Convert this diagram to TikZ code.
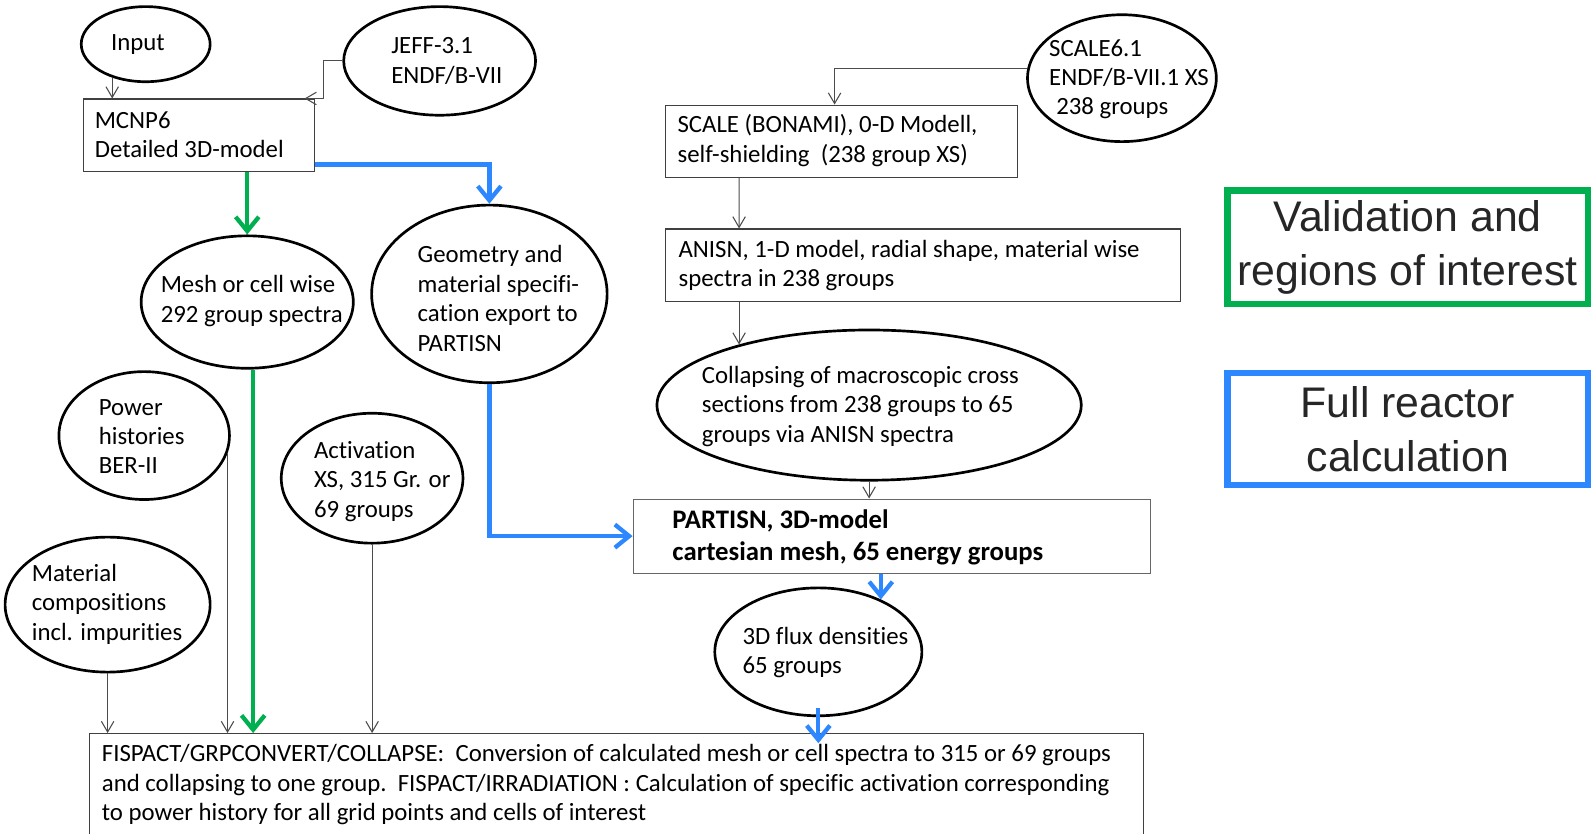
\documentclass[tikz,border=0pt]{standalone}
\usepackage{fontspec}
\setmainfont{Carlito}[Ligatures={NoCommon}]
\newfontfamily\legendfont{Liberation Sans}
\usetikzlibrary{arrows.meta,calc,shapes.geometric}
\definecolor{roigreen}{RGB}{0,176,80}
\definecolor{fullblue}{RGB}{45,135,255}
\tikzset{
	ell/.style={draw=black, line width=1.5pt, ellipse, inner sep=0pt},
	box/.style={draw=black!75, line width=0.6pt, rectangle, inner sep=0pt, anchor=north west},
	txt/.style={align=left, anchor=west, inner sep=0pt, font=\fontsize{13.9}{16.5}\selectfont},
	thinarrow/.style={draw=black!70, line width=0.6pt, -{Straight Barb[length=6pt,width=7pt]}},
	greenarrow/.style={draw=roigreen, line width=2.4pt, -{Straight Barb[length=8pt,width=13pt]}},
	bluearrow/.style={draw=fullblue, line width=2.4pt, -{Straight Barb[length=8pt,width=13pt]}},
	legendbox/.style={line width=3.5pt, minimum width=7.1cm, align=center, text=black!85, font=\legendfont\fontsize{24}{30.5}\selectfont}
}

\begin{document}
\begin{tikzpicture}[x=0.02cm, y=-0.02cm]
		%%%%% START %%%%%
		
		\useasboundingbox (0,0) rectangle (1568,821);
		
		\node[ell, minimum width=2.54cm, minimum height=1.48cm] (input) at (143.5,43.5) {};
		\node[txt] (inputtext) at (109,43.5) {Input};
		\node[ell, minimum width=3.78cm, minimum height=2.14cm] (jeff) at (433,60) {};
		\node[txt] (jefftext) at (385,60) {JEFF-3.1\\ENDF/B-VII};
		\node[box, minimum width=4.54cm, minimum height=1.42cm] (mcnp) at (82,97) {};
		\node[txt] (mcnptext) at (93,132.5) {MCNP6\\Detailed 3D-model};
		
		\node[ell, minimum width=3.72cm, minimum height=2.5cm] (scale) at (1105,77) {};
		\node[txt] (scaletext) at (1033,78) {SCALE6.1\\ENDF/B-VII.1 XS\\\hspace*{4pt}238 groups};
		\node[box, minimum width=6.94cm, minimum height=1.42cm] (bonami) at (655,103) {};
		\node[txt] (bonamitext) at (667,138.5) {SCALE (BONAMI), 0-D Modell,\\self-shielding\ \ (238 group XS)};
		\node[box, minimum width=10.14cm, minimum height=1.42cm] (anisn) at (655,225) {};
		\node[txt] (anisntext) at (668,261.5) {ANISN, 1-D model, radial shape, material wise\\spectra in 238 groups};
		\node[ell, minimum width=8.36cm, minimum height=2.96cm] (coll) at (856,399) {};
		\node[txt] (colltext) at (691,400) {Collapsing of macroscopic cross\\sections from 238 groups to 65\\groups via ANISN spectra};
		
		\node[ell, minimum width=4.18cm, minimum height=2.61cm] (mesh) at (243.5,297.5) {};
		\node[txt] (meshtext) at (158,296.5) {Mesh or cell wise\\292 group spectra};
		\node[ell, minimum width=4.64cm, minimum height=3.5cm] (geo) at (482,289.5) {};
		\node[txt] (geotext) at (411,294) {Geometry and\\material specifi-\\cation export to\\PARTISN};
		
		\node[ell, minimum width=3.36cm, minimum height=2.52cm] (power) at (142,429) {};
		\node[txt] (powertext) at (97,430) {Power\\histories\\BER-II};
		\node[ell, minimum width=3.58cm, minimum height=2.56cm] (act) at (366.5,471) {};
		\node[txt] (acttext) at (309,474) {Activation\\XS, 315 Gr. or\\69 groups};
		\node[ell, minimum width=4.04cm, minimum height=2.66cm] (material) at (106,595.5) {};
		\node[txt] (materialtext) at (31,595) {Material\\compositions\\incl. impurities};
		
		\node[box, draw=black!60, minimum width=10.2cm, minimum height=1.46cm] (partisn) at (623,491) {};
		\node[txt, font=\bfseries\fontsize{15}{18}\selectfont] (partisntext) at (662,529) {PARTISN, 3D-model\\cartesian mesh, 65 energy groups};
		\node[ell, minimum width=4.08cm, minimum height=2.52cm] (flux) at (806,642) {};
		\node[txt] (fluxtext) at (731,642.5) {3D flux densities\\65 groups};
		\node[box, minimum width=20.76cm, minimum height=2.1cm] (fispact) at (88,722) {};
		\node[txt] (fispacttext) at (100,773) {FISPACT/GRPCONVERT/COLLAPSE:\ \ Conversion of calculated mesh or cell spectra to 315 or 69 groups\\and collapsing to one group.\ \ FISPACT/IRRADIATION : Calculation of specific activation corresponding\\to power history for all grid points and cells of interest};
		
		\node[legendbox, draw=roigreen, minimum height=2.24cm] (roilegend) at (1386.5,243.5) {Validation and\\regions of interest};
		\node[legendbox, draw=fullblue, minimum height=2.22cm] (fulllegend) at (1386.5,422.5) {Full reactor\\calculation};
		
		\draw[thinarrow] (input.-135) -- (input.-135 |- mcnp.north);
		\draw[thinarrow] (jeff.west) -| ($(mcnp.north east)+(9,0)$) -- ($(mcnp.north east)+(-10,0)$);
		\draw[thinarrow] (scale.174) -| ($(bonami.north west)+(167,0)$);
		\draw[thinarrow] ($(bonami.south west)+(73,0)$) -- (coll.155 |- anisn.north);
		\draw[thinarrow] (coll.155 |- anisn.south) -- (coll.155);
		\draw[thinarrow] (coll.south) -- (coll.south |- partisn.north);
		
		\draw[greenarrow] (mesh.north |- mcnp.south) -- (mesh.north);
		\draw[greenarrow] (mesh.-85) -- (mesh.-85 |- fispact.north);
		\draw[bluearrow] ($(mcnp.south east)+(0,-7)$) -| (geo.north);
		\draw[bluearrow] (geo.south) |- (partisn.west);
		\draw[bluearrow] (flux.40 |- partisn.south) -- (flux.40);
		\draw[bluearrow] ($(flux.south)+(0,-9)$) -- ($(flux.south |- fispact.north)+(0,10)$);
		
		\draw[thinarrow] (power.-12) -- (power.-12 |- fispact.north);
		\draw[thinarrow] (act.south) -- (act.south |- fispact.north);
		\draw[thinarrow] (material.south) -- (material.south |- fispact.north);
		
		%%%%% END %%%%%
	\end{tikzpicture}
\end{document}
